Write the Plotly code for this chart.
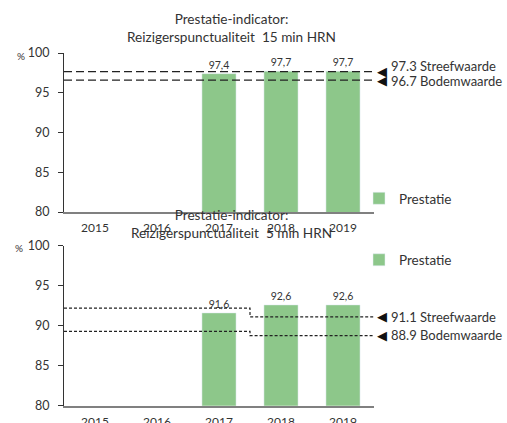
import plotly.graph_objects as go

years = ["2015", "2016", "2017", "2018", "2019"]
xpos = [0, 1, 2, 3, 4]

# Top: 15 min
top_values = [None, None, 97.4, 97.7, 97.7]
top_streef_line = [97.65, 97.65]
top_bodem_line = [96.6, 96.6]
top_labels = ["97.3 Streefwaarde", "96.7 Bodemwaarde"]

# Bottom: 5 min
bot_values = [None, None, 91.6, 92.6, 92.6]
bot_streef_line = [92.2, 92.2, 91.1, 91.1]
bot_bodem_line = [89.3, 89.3, 88.75, 88.75]
bot_labels = ["91.1 Streefwaarde", "88.9 Bodemwaarde"]

line_x_flat = [-0.5, 4.6]
line_x_step = [-0.5, 2.5, 2.5, 4.6]

GREEN = "#8DC78A"
FONT = "Lato"
TXT = "#333333"

fig = go.Figure()

# ---- top chart
fig.add_trace(go.Bar(x=xpos, y=top_values, marker_color=GREEN, width=0.55,
                     name="Prestatie", texttemplate="%{y:.1f}", textposition="outside",
                     textfont=dict(size=10.5, color=TXT), cliponaxis=False,
                     xaxis="x", yaxis="y", legend="legend"))
for yy in [top_streef_line, top_bodem_line]:
    fig.add_trace(go.Scatter(x=line_x_flat, y=yy, mode="lines",
                             line=dict(color="#222222", width=1.2, dash="8px,4px"),
                             showlegend=False, hoverinfo="skip", xaxis="x", yaxis="y"))

# ---- bottom chart
fig.add_trace(go.Bar(x=xpos, y=bot_values, marker_color=GREEN, width=0.55,
                     name="Prestatie", texttemplate="%{y:.1f}", textposition="outside",
                     textfont=dict(size=10.5, color=TXT), cliponaxis=False,
                     xaxis="x2", yaxis="y2", legend="legend2"))
for yy in [bot_streef_line, bot_bodem_line]:
    fig.add_trace(go.Scatter(x=line_x_step, y=yy, mode="lines",
                             line=dict(color="#222222", width=1.2, dash="3px,2px"),
                             showlegend=False, hoverinfo="skip", xaxis="x2", yaxis="y2"))

tri_x = 375 / 507
text_x = 389 / 507
annotations = []
groups = [
    ("y", top_labels, [top_streef_line[-1], top_bodem_line[-1]], [6, -1]),
    ("y2", bot_labels, [bot_streef_line[-1], bot_bodem_line[-1]], [0, 1]),
]
for yref, labels, yvals, shifts in groups:
    for lbl, yv, sh in zip(labels, yvals, shifts):
        annotations.append(dict(text="\u25C0", x=tri_x, y=yv, xref="paper", yref=yref,
                                xanchor="left", yanchor="middle", showarrow=False,
                                font=dict(size=13, color="#111111", family="DejaVu Sans")))
        annotations.append(dict(text=lbl, x=text_x, y=yv, xref="paper", yref=yref,
                                xanchor="left", yanchor="middle", showarrow=False,
                                yshift=sh, font=dict(size=13, color=TXT)))

xdom = [64 / 507, 374 / 507]
xcommon = dict(range=[-0.5, 4.5], tickvals=xpos, ticktext=years, showgrid=False,
               zeroline=False, showline=True, linecolor="#808080", linewidth=2,
               ticks="", tickfont=dict(size=12, color=TXT), domain=xdom,
               ticklabelstandoff=4, automargin=False)
ycommon = dict(range=[80, 100], tickvals=[80, 85, 90, 95, 100], showgrid=False,
               zeroline=False, showline=True, linecolor="#333333", linewidth=1,
               ticks="outside", ticklen=5, tickcolor="#333333",
               tickfont=dict(size=12.5, color=TXT), ticklabelstandoff=6,
               automargin=False)

annotations += [
    dict(text="Prestatie-indicator:<br>Reizigerspunctualiteit\u00a0 15 min HRN",
         x=231 / 507, y=1 - 9 / 423, xref="paper", yref="paper",
         xanchor="center", yanchor="top", showarrow=False,
         font=dict(size=13.6, color=TXT)),
    dict(text="Prestatie-indicator:<br>Reizigerspunctualiteit\u00a0 5 min HRN",
         x=231 / 507, y=1 - 205 / 423, xref="paper", yref="paper",
         xanchor="center", yanchor="top", showarrow=False,
         font=dict(size=13.6, color=TXT)),
    dict(text="%", x=21 / 507, y=1 - 56 / 423, xref="paper", yref="paper",
         xanchor="center", yanchor="middle", showarrow=False,
         font=dict(size=10, color=TXT)),
    dict(text="%", x=19 / 507, y=1 - 248 / 423, xref="paper", yref="paper",
         xanchor="center", yanchor="middle", showarrow=False,
         font=dict(size=10, color=TXT)),
]

fig.update_layout(
    width=507, height=423,
    margin=dict(l=0, r=0, t=0, b=0, pad=0, autoexpand=False),
    paper_bgcolor="white", plot_bgcolor="white",
    font=dict(family=FONT, color=TXT),
    separators=",.",
    xaxis=dict(**xcommon, anchor="y"),
    yaxis=dict(**ycommon, domain=[1 - 212 / 423, 1 - 53 / 423], anchor="x"),
    xaxis2=dict(**xcommon, anchor="y2"),
    yaxis2=dict(**ycommon, domain=[1 - 405.7 / 423, 1 - 245.7 / 423], anchor="x2"),
    legend=dict(x=359 / 507, y=1 - 183 / 423, xanchor="left", yanchor="top",
                font=dict(size=13.5, color=TXT), bgcolor="rgba(0,0,0,0)"),
    legend2=dict(x=359 / 507, y=1 - 244.5 / 423, xanchor="left", yanchor="top",
                 font=dict(size=13.5, color=TXT), bgcolor="rgba(0,0,0,0)"),
    annotations=annotations,
)

fig.write_html("out.html", config={"displayModeBar": False},
               post_script="document.body.style.margin='0px';")
